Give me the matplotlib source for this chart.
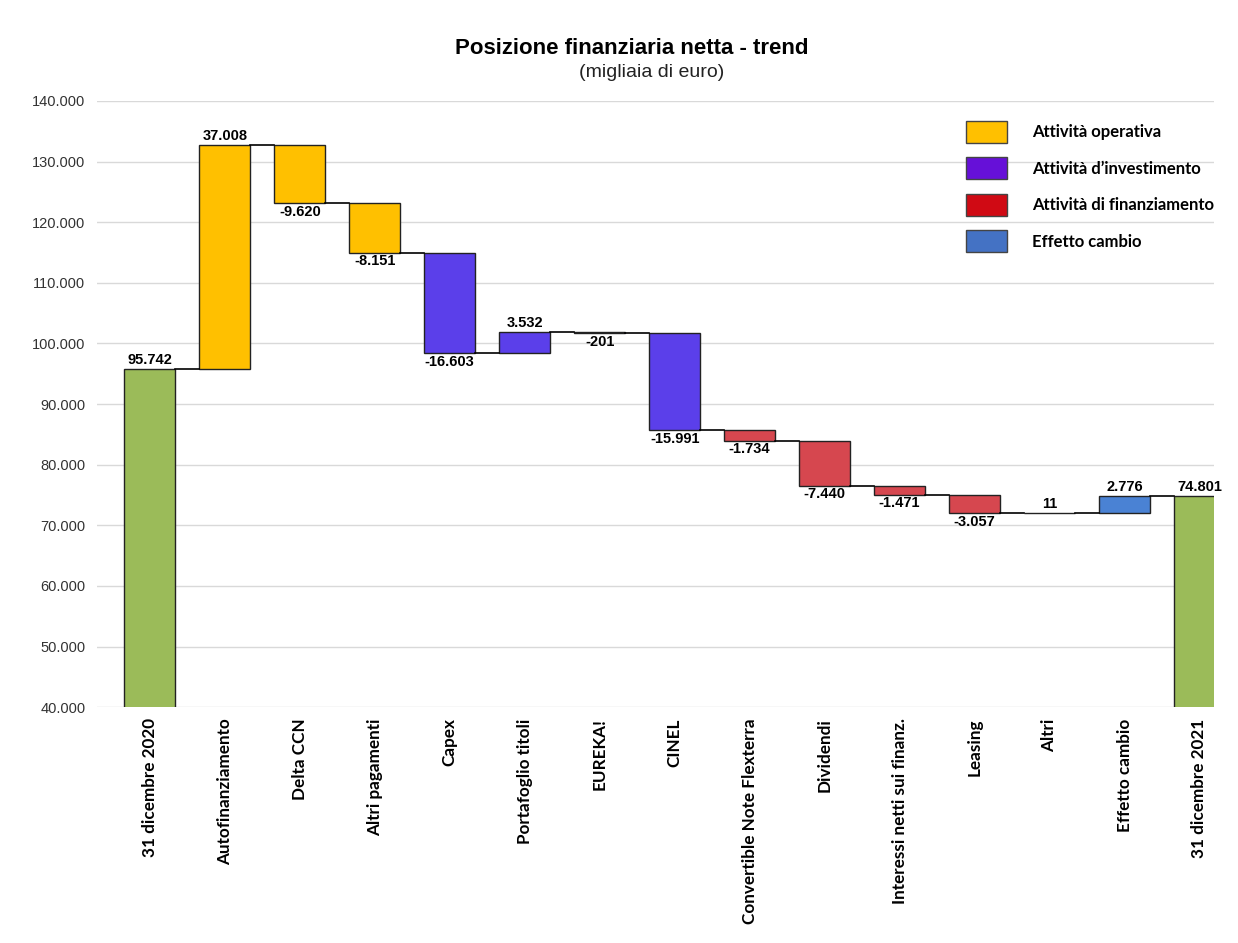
import matplotlib
matplotlib.use("Agg")
import matplotlib.pyplot as plt
from matplotlib.patches import Patch

# waterfall data (migliaia di euro)
categories = ["31 dicembre 2020", "Autofinanziamento", "Delta CCN", "Altri pagamenti", "Capex",
              "Portafoglio titoli", "EUREKA!", "CINEL", "Convertible Note Flexterra", "Dividendi",
              "Interessi netti sui finanz.", "Leasing", "Altri", "Effetto cambio", "31 dicembre 2021"]
start_value = 95742
deltas = [37008, -9620, -8151, -16603, 3532, -201, -15991, -1734, -7440, -1471, -3057, 11, 2776]
end_value = 74801
groups = ["op", "op", "op", "inv", "inv", "inv", "inv", "fin", "fin", "fin", "fin", "fin", "fx"]

BAR_COLORS = {"tot": "#9BBB59", "op": "#FFC000", "inv": "#5B3FEA", "fin": "#D6474F", "fx": "#4A82D4"}
LEG_COLORS = {"op": "#FFC000", "inv": "#6610D8", "fin": "#D00A14", "fx": "#4472C4"}
LEG_LABELS = {"op": "Attività operativa", "inv": "Attività d\u2019investimento",
              "fin": "Attività di finanziamento", "fx": "Effetto cambio"}


def fmt(v):
    return f"{v:,}".replace(",", ".")


plt.rcParams["font.family"] = ["Liberation Sans", "DejaVu Sans"]
fig = plt.figure(figsize=(12.38, 9.43), dpi=100)
ax = fig.add_axes([0.078, 0.250, 0.903, 0.643])

w = 0.68
lvl = [start_value]
for d in deltas:
    lvl.append(lvl[-1] + d)

# totals
for i, v in [(0, start_value), (len(categories) - 1, end_value)]:
    ax.bar(i, v, width=w, color=BAR_COLORS["tot"], edgecolor="#222222", lw=1, zorder=3)
    ax.text(i, v + 300, fmt(v), ha="center", va="bottom", fontsize=10.5, fontweight="bold", zorder=5)

# deltas
for k, d in enumerate(deltas):
    i = k + 1
    prev, cur = lvl[k], lvl[k + 1]
    lo = min(prev, cur)
    ax.bar(i, abs(d), bottom=lo, width=w, color=BAR_COLORS[groups[k]], edgecolor="#222222",
           lw=1, zorder=3)
    if d >= 0:
        ax.text(i, max(prev, cur) + 300, fmt(d), ha="center", va="bottom", fontsize=10.5,
                fontweight="bold", zorder=5)
    else:
        ax.text(i, lo - 300, fmt(d), ha="center", va="top", fontsize=10.5,
                fontweight="bold", zorder=5)

# connectors
for i in range(len(categories) - 1):
    ax.plot([i + w / 2, i + 1 - w / 2], [lvl[min(i, len(lvl) - 1)]] * 2, color="black", lw=1.2,
            zorder=4)

ax.set_ylim(40000, 140000)
ax.set_xlim(-0.71, 14.2)
ax.set_yticks(range(40000, 140001, 10000))
ax.set_yticklabels([fmt(v) for v in range(40000, 140001, 10000)], fontsize=10.5, color="#333333")
ax.set_xticks(range(len(categories)))
ax.set_xticklabels(categories, rotation=90, fontsize=12.3, fontweight="bold",
                   family=["Lato", "DejaVu Sans"], va="top")
ax.tick_params(length=0, pad=8)
ax.grid(axis="y", color="#D9D9D9", lw=1, zorder=0)
for s in ax.spines.values():
    s.set_visible(False)

handles = [Patch(facecolor=LEG_COLORS[g], edgecolor="#444444", label=LEG_LABELS[g])
           for g in ["op", "inv", "fin", "fx"]]
ax.legend(handles=handles, loc="upper left", bbox_to_anchor=(0.778, 0.967), frameon=False,
          prop={"family": ["Lato", "DejaVu Sans"], "weight": "bold", "size": 12},
          handlelength=2.46, handleheight=1.65, labelspacing=0.87, handletextpad=1.5,
          borderpad=0, borderaxespad=0)

fig.text(0.510, 0.949, "Posizione finanziaria netta - trend", ha="center", va="center",
         fontsize=16, fontweight="bold")
fig.text(0.526, 0.923, "(migliaia di euro)", ha="center", va="center", fontsize=14,
         color="#222222")

fig.savefig("out.png", dpi=100)
